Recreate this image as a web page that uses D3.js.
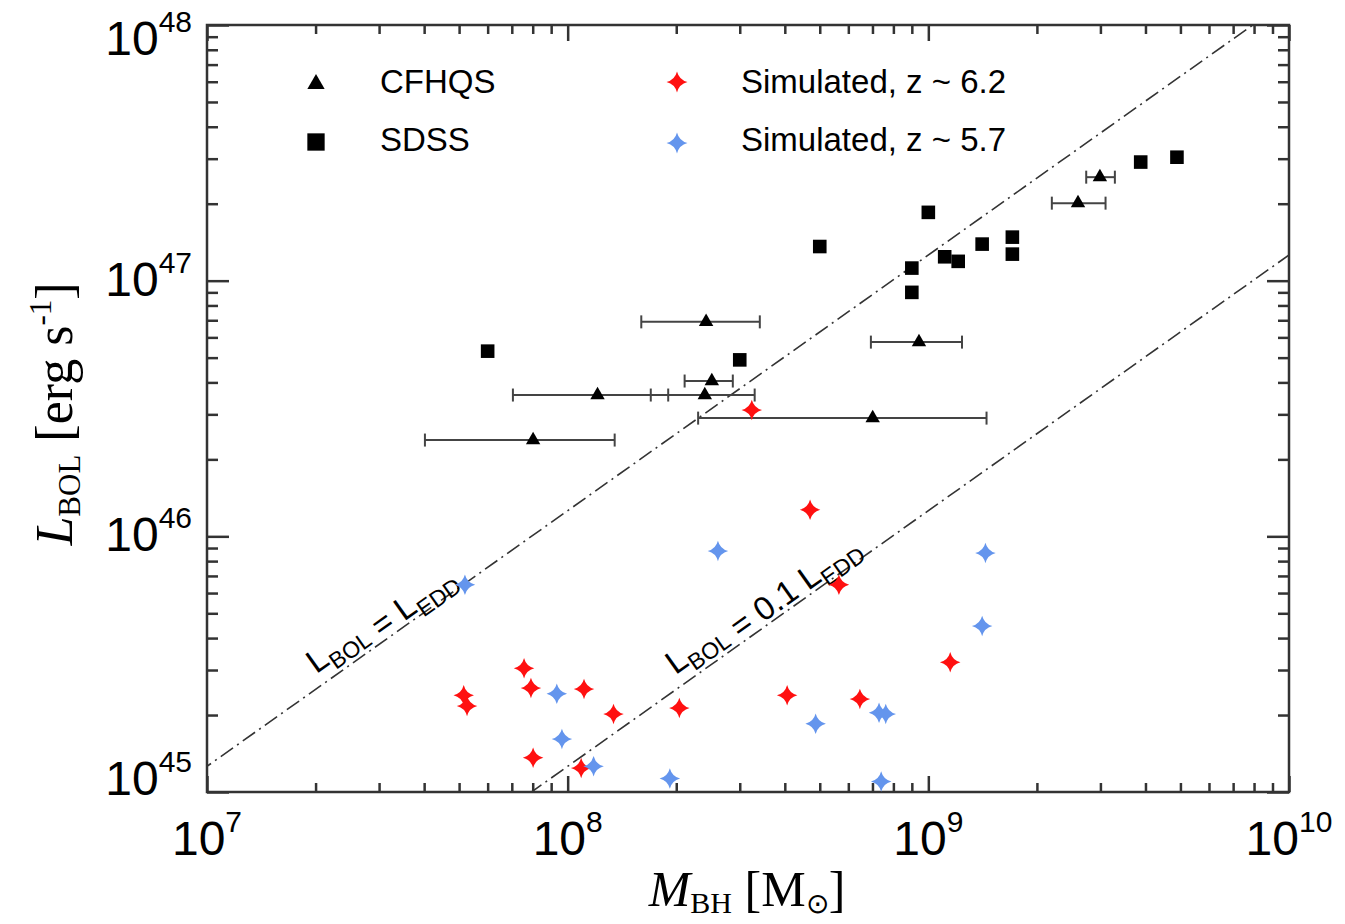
<!DOCTYPE html>
<html>
<head>
<meta charset="utf-8">
<title>L_BOL vs M_BH</title>
<style>
  body { margin: 0; background: #fff; }
  text { font-family: "Liberation Sans", Arial, sans-serif; fill: #000; }
  .serif { font-family: "Liberation Serif", "Times New Roman", serif; }
</style>
</head>
<body>
<script src="https://d3js.org/d3.v7.min.js"></script>
<script>

// --- data ---
var xTickValues = [1e7, 1e8, 1e9, 1e10];
var xTickExps = ["7", "8", "9", "10"];
var yTickValues = [1e45, 1e46, 1e47, 1e48];
var yTickExps = ["45", "46", "47", "48"];

// SDSS quasars
var sdssM = [6.0e7, 3.0e8, 5.0e8, 9.0e8, 9.0e8, 1.0e9, 1.11e9, 1.21e9, 1.41e9, 1.71e9, 1.71e9, 3.88e9, 4.89e9];
var sdssL = [5.3e46, 4.9e46, 1.36e47, 1.12e47, 9.0e46, 1.85e47, 1.24e47, 1.19e47, 1.39e47, 1.48e47, 1.27e47, 2.91e47, 3.04e47];

// CFHQS quasars with mass error bars
var cfhqsM   = [2.42e8, 9.42e8, 1.21e8, 2.40e8, 2.51e8, 8.02e7, 7.01e8, 2.60e9, 2.99e9];
var cfhqsL   = [6.9e46, 5.75e46, 3.57e46, 3.57e46, 4.05e46, 2.38e46, 2.90e46, 2.01e47, 2.54e47];
var cfhqsMlo = [1.60e8, 6.93e8, 7.05e7, 1.70e8, 2.11e8, 4.02e7, 2.30e8, 2.20e9, 2.74e9];
var cfhqsMhi = [3.41e8, 1.24e9, 1.90e8, 3.30e8, 2.87e8, 1.35e8, 1.45e9, 3.10e9, 3.29e9];

// simulated, z ~ 6.2
var simRedM = [3.24e8, 4.70e8, 5.65e8, 1.15e9, 7.57e7, 7.91e7, 1.11e8, 5.15e7, 5.26e7, 1.34e8, 2.04e8, 4.06e8, 6.46e8, 8.02e7, 1.09e8];
var simRedL = [3.12e46, 1.27e46, 6.46e45, 3.22e45, 3.05e45, 2.55e45, 2.53e45, 2.39e45, 2.17e45, 2.02e45, 2.13e45, 2.39e45, 2.31e45, 1.36e45, 1.24e45];

// simulated, z ~ 5.7
var simBlueM = [5.19e7, 2.61e8, 1.44e9, 1.41e9, 9.33e7, 9.64e7, 1.18e8, 1.92e8, 4.87e8, 7.30e8, 7.62e8, 7.40e8];
var simBlueL = [6.46e45, 8.77e45, 8.61e45, 4.46e45, 2.42e45, 1.61e45, 1.26e45, 1.13e45, 1.85e45, 2.04e45, 2.02e45, 1.10e45];

// Eddington luminosity per solar mass, and the two ratios drawn
var eddPerMsun = 1.26e38;
var eddRatios = [1, 0.1];

// --- layout ---
var W = 1345, H = 924;
var plotLeft = 207, plotRight = 1289, plotTop = 25, plotBottom = 792;

var svg = d3.select("body").append("svg")
    .attr("width", W)
    .attr("height", H);

var x = d3.scaleLog().domain([1e7, 1e10]).range([plotLeft, plotRight]);
var y = d3.scaleLog().domain([1e45, 1e48]).range([plotBottom, plotTop]);

function minorTicks(lo, hi) {
  var out = [];
  for (var d = lo; d < hi; d++) {
    for (var k = 2; k <= 9; k++) out.push(k * Math.pow(10, d));
  }
  return out;
}

var axisColor = "#333";

function drawAxis(gen, tx, ty, vals, size) {
  svg.append("g")
    .attr("transform", "translate(" + tx + "," + ty + ")")
    .call(gen.tickValues(vals).tickSizeInner(-size).tickSizeOuter(0).tickFormat(""))
    .call(function(g) { g.select(".domain").remove(); })
    .call(function(g) { g.selectAll("line").attr("stroke", axisColor).attr("stroke-width", 2.5); });
}

// ticks on all four sides, pointing inwards
drawAxis(d3.axisBottom(x), 0, plotBottom, xTickValues, 16);
drawAxis(d3.axisBottom(x), 0, plotBottom, minorTicks(7, 10), 9);
drawAxis(d3.axisTop(x), 0, plotTop, xTickValues, 16);
drawAxis(d3.axisTop(x), 0, plotTop, minorTicks(7, 10), 9);
drawAxis(d3.axisLeft(y), plotLeft, 0, yTickValues, 22);
drawAxis(d3.axisLeft(y), plotLeft, 0, minorTicks(45, 48), 11);
drawAxis(d3.axisRight(y), plotRight, 0, yTickValues, 22);
drawAxis(d3.axisRight(y), plotRight, 0, minorTicks(45, 48), 11);

svg.append("rect")
  .attr("x", plotLeft).attr("y", plotTop)
  .attr("width", plotRight - plotLeft).attr("height", plotBottom - plotTop)
  .attr("fill", "none")
  .attr("stroke", axisColor)
  .attr("stroke-width", 2.5);

// tick labels 10^n
xTickValues.forEach(function(v, i) {
  var t = svg.append("text")
    .attr("x", x(v)).attr("y", 855)
    .attr("text-anchor", "middle")
    .style("font-size", "48px");
  t.append("tspan").text("10");
  t.append("tspan").attr("dy", -23).style("font-size", "30px").text(xTickExps[i]);
});

yTickValues.forEach(function(v, i) {
  var base = Math.max(55, Math.min(795, y(v) + 15));
  var t = svg.append("text")
    .attr("x", plotLeft - 15).attr("y", base)
    .attr("text-anchor", "end")
    .style("font-size", "48px");
  t.append("tspan").text("10");
  t.append("tspan").attr("dy", -23).style("font-size", "30px").text(yTickExps[i]);
});

// axis titles
var yt = svg.append("text")
  .attr("class", "serif")
  .attr("transform", "translate(72,414) rotate(-90)")
  .attr("text-anchor", "middle")
  .style("font-size", "52px");
yt.append("tspan").style("font-style", "italic").text("L");
yt.append("tspan").attr("dy", 8).style("font-size", "31px").text("BOL");
yt.append("tspan").attr("dy", -8).text(" [erg s");
yt.append("tspan").attr("dy", -21).style("font-size", "31px").text("-1");
yt.append("tspan").attr("dy", 21).text("]");

var xt = svg.append("text")
  .attr("class", "serif")
  .attr("x", 747).attr("y", 906)
  .attr("text-anchor", "middle")
  .style("font-size", "50px");
xt.append("tspan").style("font-style", "italic").text("M");
xt.append("tspan").attr("dy", 7).style("font-size", "30px").text("BH");
xt.append("tspan").attr("dy", -7).text(" [M");
xt.append("tspan").attr("dy", 7).style("font-size", "28px").text("\u2299");
xt.append("tspan").attr("dy", -7).text("]");

// Eddington lines
svg.append("clipPath").attr("id", "plotclip")
  .append("rect")
  .attr("x", plotLeft).attr("y", plotTop)
  .attr("width", plotRight - plotLeft).attr("height", plotBottom - plotTop);

var line = d3.line()
  .x(function(d) { return x(d[0]); })
  .y(function(d) { return y(d[1]); });

eddRatios.forEach(function(r) {
  var pts = [1e6, 1e11].map(function(m) { return [m, eddPerMsun * r * m]; });
  svg.append("path")
    .attr("d", line(pts))
    .attr("clip-path", "url(#plotclip)")
    .attr("fill", "none")
    .attr("stroke", "#333")
    .attr("stroke-width", 1.6)
    .attr("stroke-dasharray", "15,5,2,5");
});

function lineLabel(r, mStart, parts) {
  var x1 = x(mStart), y1 = y(eddPerMsun * r * mStart);
  var x2 = x(mStart * 10), y2 = y(eddPerMsun * r * mStart * 10);
  var ang = Math.atan2(y2 - y1, x2 - x1) * 180 / Math.PI;
  var t = svg.append("text")
    .attr("transform", "translate(" + x1 + "," + y1 + ") rotate(" + ang + ")")
    .attr("y", -12)
    .style("font-size", "33px");
  parts.forEach(function(p) {
    if (p.sub) {
      t.append("tspan").attr("dy", 8).style("font-size", "23px").text(p.s);
      t.append("tspan").attr("dy", -8).text("");
    } else {
      t.append("tspan").text(p.s);
    }
  });
}

lineLabel(eddRatios[0], 2.1e7, [{s: "L"}, {s: "BOL", sub: true}, {s: " = L"}, {s: "EDD", sub: true}]);
lineLabel(eddRatios[1], 2.08e8, [{s: "L"}, {s: "BOL", sub: true}, {s: " = 0.1 L"}, {s: "EDD", sub: true}]);

// symbols
var star4 = {
  draw: function(ctx, size) {
    var r = Math.sqrt(size) / 2, c = r * 0.2;
    ctx.moveTo(r, 0);
    ctx.quadraticCurveTo(c, c, 0, r);
    ctx.quadraticCurveTo(-c, c, -r, 0);
    ctx.quadraticCurveTo(-c, -c, 0, -r);
    ctx.quadraticCurveTo(c, -c, r, 0);
    ctx.closePath();
  }
};

var red = "#ff1010", blue = "#6495ed";

// CFHQS error bars
cfhqsM.forEach(function(m, i) {
  var yy = y(cfhqsL[i]), xa = x(cfhqsMlo[i]), xb = x(cfhqsMhi[i]);
  var g = svg.append("g").attr("stroke", "#444").attr("stroke-width", 2);
  g.append("line").attr("x1", xa).attr("x2", xb).attr("y1", yy).attr("y2", yy);
  g.append("line").attr("x1", xa).attr("x2", xa).attr("y1", yy - 6.5).attr("y2", yy + 6.5);
  g.append("line").attr("x1", xb).attr("x2", xb).attr("y1", yy - 6.5).attr("y2", yy + 6.5);
});

function drawPoints(ms, ls, type, size, color) {
  svg.append("g").selectAll("path")
    .data(ms)
    .enter().append("path")
    .attr("transform", function(d, i) { return "translate(" + x(d) + "," + y(ls[i]) + ")"; })
    .attr("d", d3.symbol().type(type).size(size))
    .attr("fill", color);
}

drawPoints(sdssM, sdssL, d3.symbolSquare, 185, "#000");
drawPoints(cfhqsM, cfhqsL, d3.symbolTriangle, 90, "#000");
drawPoints(simRedM, simRedL, star4, 420, red);
drawPoints(simBlueM, simBlueL, star4, 420, blue);

// legend
var legend = [
  {label: "CFHQS", type: d3.symbolTriangle, size: 130, color: "#000", sx: 316, sy: 84, tx: 380, ty: 93},
  {label: "SDSS", type: d3.symbolSquare, size: 300, color: "#000", sx: 316, sy: 142, tx: 380, ty: 151},
  {label: "Simulated, z ~ 6.2", type: star4, size: 440, color: red, sx: 677, sy: 82, tx: 741, ty: 93},
  {label: "Simulated, z ~ 5.7", type: star4, size: 440, color: blue, sx: 677, sy: 143, tx: 741, ty: 151}
];

legend.forEach(function(d) {
  svg.append("path")
    .attr("transform", "translate(" + d.sx + "," + d.sy + ")")
    .attr("d", d3.symbol().type(d.type).size(d.size))
    .attr("fill", d.color);
  svg.append("text")
    .attr("x", d.tx).attr("y", d.ty)
    .style("font-size", "33px")
    .text(d.label);
});

</script>
</body>
</html>
